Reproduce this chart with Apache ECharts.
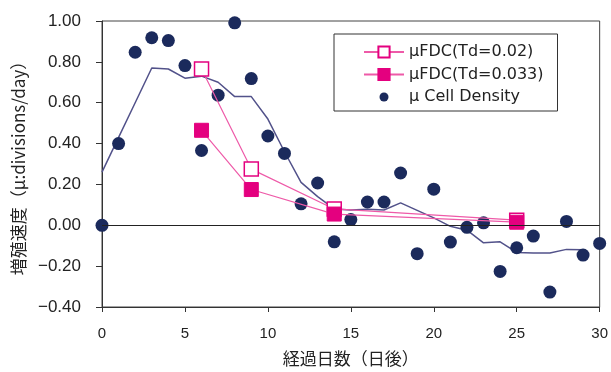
<!DOCTYPE html>
<html><head><meta charset="utf-8">
<script src="https://cdn.jsdelivr.net/npm/echarts@6/dist/echarts.min.js"></script>
<style>html,body{margin:0;padding:0;background:#fff}#c{width:611px;height:372px}</style>
</head><body><div id="c"></div>
<script>
const days = [0,1,2,3,4,5,6,7,8,9,10,11,12,13,14,15,16,17,18,19,20,21,22,23,24,25,26,27,28,29,30];
const cellDensity = [0.00,0.40,0.847,0.918,0.904,0.782,0.366,0.637,0.991,0.718,0.437,0.352,0.105,0.207,-0.081,0.028,0.114,0.114,0.256,-0.139,0.177,-0.082,-0.010,0.012,-0.226,-0.110,-0.053,-0.327,0.019,-0.146,-0.089];
const avgDays = [0,1,2,3,4,5,6,7,8,9,10,11,12,13,14,15,16,17,18,19,20,21,22,23,24,25,26,27,28,29];
const avgLine = [0.26,0.43,0.60,0.77,0.765,0.72,0.73,0.70,0.63,0.63,0.52,0.36,0.21,0.14,0.08,0.075,0.078,0.075,0.11,0.073,0.036,-0.005,-0.024,-0.086,-0.081,-0.133,-0.136,-0.136,-0.118,-0.12];
const fdcDays = [6,9,14,25];
const fdc002 = [0.765,0.275,0.08,0.025];
const fdc0033 = [0.465,0.175,0.055,0.015];
const names = ['\u03bcFDC(Td=0.02)','\u03bcFDC(Td=0.033)','\u03bc Cell Density'];
const xTitle = '経過日数（日後）';
const yTitle = '増殖速度（\u03bc:divisions/day）';

const pair = (xs, ys) => xs.map((x,i)=>[x, ys[i]]);
const pink = '#e4007f';
const navy = '#1b2a5c';
const numFont = 'Liberation Sans';
const jpFont = 'Noto Sans CJK JP';

const chart = echarts.init(document.getElementById('c'), null, {renderer:'canvas'});
chart.setOption({
  animation:false,
  backgroundColor:'#fff',
  grid:{left:102,right:10,top:21,bottom:63,show:true,borderColor:'#444',borderWidth:1},
  legend:{
    orient:'vertical', left:334, top:34,
    data:[
      {name:names[0]},
      {name:names[1]},
      {name:names[2], icon:'path://M0,0M40,14M15.5,7A4.5,4.5,0,1,0,24.5,7A4.5,4.5,0,1,0,15.5,7Z'}
    ],
    padding:[10,14,6,29], itemGap:6.5,
    itemWidth:40, itemHeight:14,
    borderColor:'#333', borderWidth:1,
    backgroundColor:'#fff',
    textStyle:{fontFamily:'DejaVu Sans',fontSize:16,lineHeight:16,color:'#222'}
  },
  xAxis:{
    type:'value', min:0, max:30, interval:5,
    name:xTitle, nameLocation:'middle', nameGap:43,
    nameTextStyle:{fontFamily:jpFont,fontSize:17,color:'#222'},
    axisLine:{onZero:false,lineStyle:{color:'#333',width:1}},
    axisTick:{show:true,length:5,lineStyle:{color:'#333'}},
    axisLabel:{fontFamily:numFont,fontSize:15,color:'#222',margin:19},
    splitLine:{show:false}
  },
  yAxis:{
    type:'value', min:-0.4, max:1.0, interval:0.2,
    name:yTitle, nameLocation:'middle', nameRotate:90, nameGap:74,
    nameTextStyle:{fontFamily:jpFont,fontSize:17,color:'#222'},
    axisLine:{show:true,lineStyle:{color:'#333',width:1}},
    axisTick:{show:true,length:6,lineStyle:{color:'#333'}},
    axisLabel:{fontFamily:numFont,fontSize:17,color:'#222',margin:21,
      formatter:v=>(v< -1e-9?'\u2212':'')+Math.abs(v).toFixed(2)},
    splitLine:{show:false}
  },
  series:[
    {type:'line', name:'avg', data:pair(avgDays,avgLine), symbol:'none', z:1,
     lineStyle:{color:'#52528a',width:1.5}, itemStyle:{color:'#52528a'},
     markLine:{silent:true,symbol:'none',label:{show:false},lineStyle:{color:'#222',type:'solid',width:1},data:[{yAxis:0}]}},
    {type:'scatter', name:names[2], data:pair(days,cellDensity), symbol:'circle', symbolSize:13, z:2,
     itemStyle:{color:navy,opacity:1}},
    {type:'line', name:names[0], data:pair(fdcDays,fdc002), symbol:'rect', symbolSize:14, z:3,
     lineStyle:{color:'#ee5aa8',width:1.2}, itemStyle:{color:'#fff',borderColor:pink,borderWidth:1.5}},
    {type:'line', name:names[1], data:pair(fdcDays,fdc0033), symbol:'rect', symbolSize:14, z:4,
     lineStyle:{color:'#ee5aa8',width:1.2}, itemStyle:{color:pink,borderColor:pink,borderWidth:1}}
  ]
});
</script></body></html>
